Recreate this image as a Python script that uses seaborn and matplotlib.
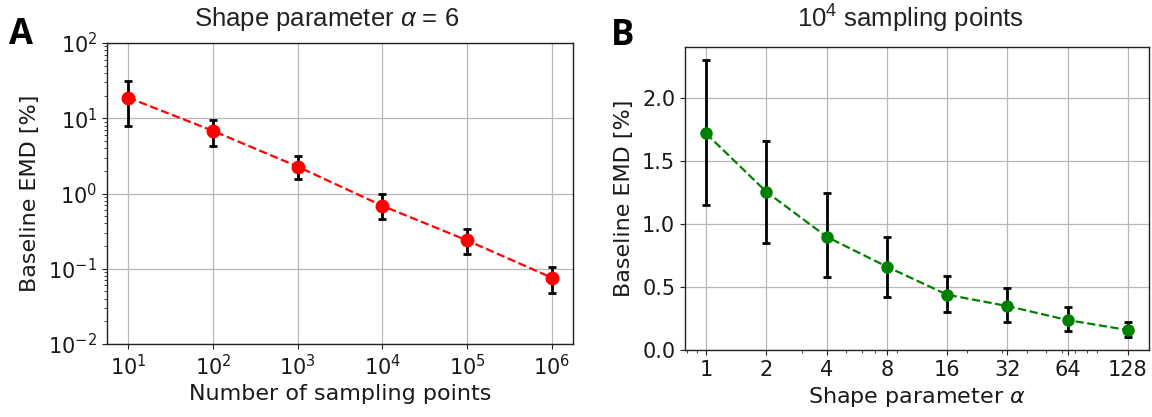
import numpy as np
import pandas as pd
import matplotlib
matplotlib.use("Agg")
import matplotlib.pyplot as plt
import matplotlib.ticker as mticker
import seaborn as sns

# Panel A: baseline EMD vs. number of sampling points (shape parameter alpha = 6)
n_points = [1e1, 1e2, 1e3, 1e4, 1e5, 1e6]
emd_a = [18.8, 6.8, 2.28, 0.686, 0.238, 0.076]
emd_a_low = [7.8, 4.3, 1.57, 0.456, 0.157, 0.048]
emd_a_high = [31.3, 9.6, 3.16, 1.0, 0.333, 0.104]

# Panel B: baseline EMD vs. shape parameter (10^4 sampling points)
alphas = [1, 2, 4, 8, 16, 32, 64, 128]
alpha_labels = ["1", "2", "4", "8", "16", "32", "64", "128"]
emd_b = [1.715, 1.253, 0.897, 0.660, 0.438, 0.348, 0.237, 0.158]
emd_b_low = [1.148, 0.850, 0.575, 0.422, 0.298, 0.222, 0.153, 0.106]
emd_b_high = [2.296, 1.657, 1.240, 0.897, 0.588, 0.493, 0.338, 0.224]

sns.set_style("ticks")
plt.rcParams.update({
    "font.family": ["DejaVu Sans"],
    "font.size": 15,
    "axes.edgecolor": "#222222",
    "axes.linewidth": 1.0,
    "text.color": "#1a1a1a",
    "axes.labelcolor": "#1a1a1a",
    "xtick.color": "#222222",
    "ytick.color": "#222222",
    "xtick.labelcolor": "#1a1a1a",
    "ytick.labelcolor": "#1a1a1a",
    "xtick.direction": "out",
    "ytick.direction": "out",
    "xtick.major.size": 3.5,
    "ytick.major.size": 3.5,
    "xtick.minor.size": 2,
    "ytick.minor.size": 2,
    "xtick.major.width": 0.8,
    "ytick.major.width": 0.8,
    "mathtext.fontset": "dejavusans",
    "mathtext.rm": "Liberation Sans",
    "mathtext.it": "Liberation Sans:italic",
})

W, H = 1152, 417
fig = plt.figure(figsize=(W / 100, H / 100), dpi=100)
ax_a = fig.add_axes([107 / W, 1 - 344 / H, 466 / W, 301 / H])
ax_b = fig.add_axes([685 / W, 1 - 350 / H, 464 / W, 303 / H])

df_a = pd.DataFrame({"n": n_points, "emd": emd_a, "lo": emd_a_low, "hi": emd_a_high})
df_b = pd.DataFrame({"alpha": alphas, "emd": emd_b, "lo": emd_b_low, "hi": emd_b_high})


def draw(ax, df, xcol, color, ms):
    ax.set_xscale("log")
    ax.grid(True, which="major", color="#b8b8b8", linewidth=0.9, zorder=0)
    ax.set_axisbelow(True)
    ax.errorbar(df[xcol], df["emd"],
                yerr=[df["emd"] - df["lo"], df["hi"] - df["emd"]],
                fmt="none", ecolor="black", elinewidth=2.0,
                capsize=3, capthick=2.0, zorder=2)
    sns.lineplot(data=df, x=xcol, y="emd", ax=ax, color=color,
                 linestyle="--", linewidth=1.6, marker="o",
                 markersize=ms, markeredgewidth=0, errorbar=None,
                 zorder=3)
    for s in ax.spines.values():
        s.set_visible(True)
    # 5% padding on each side in log space
    lo, hi = np.log10(df[xcol].min()), np.log10(df[xcol].max())
    pad = 0.05 * (hi - lo)
    ax.set_xlim(10 ** (lo - pad), 10 ** (hi + pad))


draw(ax_a, df_a, "n", "#ff0000", 10)
ax_a.set_yscale("log")
ax_a.set_ylim(1e-2, 1e2)
ax_a.xaxis.set_major_locator(mticker.FixedLocator(n_points))
ax_a.xaxis.set_minor_locator(mticker.NullLocator())
ax_a.set_xlabel("Number of sampling points", fontsize=16)
ax_a.set_ylabel("Baseline EMD [%]", fontsize=16, labelpad=6)
ax_a.tick_params(labelsize=15)

draw(ax_b, df_b, "alpha", "#008000", 9)
ax_b.set_ylim(0, 2.4)
ax_b.yaxis.set_major_locator(mticker.MultipleLocator(0.5))
ax_b.yaxis.set_major_formatter(mticker.FormatStrFormatter("%.1f"))
ax_b.set_xticks(alphas)
ax_b.set_xticklabels(alpha_labels)
ax_b.xaxis.set_minor_formatter(mticker.NullFormatter())
ax_b.set_xlabel(r"Shape parameter $\alpha$", fontsize=16)
ax_b.set_ylabel("Baseline EMD [%]", fontsize=16, labelpad=6)
ax_b.tick_params(labelsize=15)

# Panel titles and letters
fig.text(327 / W, 1 - 19 / H, r"Shape parameter $\alpha$ = 6", ha="center", va="center",
         fontsize=18.5, family="Liberation Sans", math_fontfamily="custom", color="#222222")
fig.text(910 / W, 1 - 19 / H, r"$10^4$ sampling points", ha="center", va="center",
         fontsize=18.5, family="Liberation Sans", math_fontfamily="custom", color="#222222")
fig.text(21 / W, 1 - 35 / H, "A", ha="center", va="center", fontsize=25,
         fontweight="bold", family="Open Sans", color="black")
fig.text(623 / W, 1 - 36 / H, "B", ha="center", va="center", fontsize=25,
         fontweight="bold", family="Open Sans", color="black")

fig.savefig("out.png", dpi=100)
